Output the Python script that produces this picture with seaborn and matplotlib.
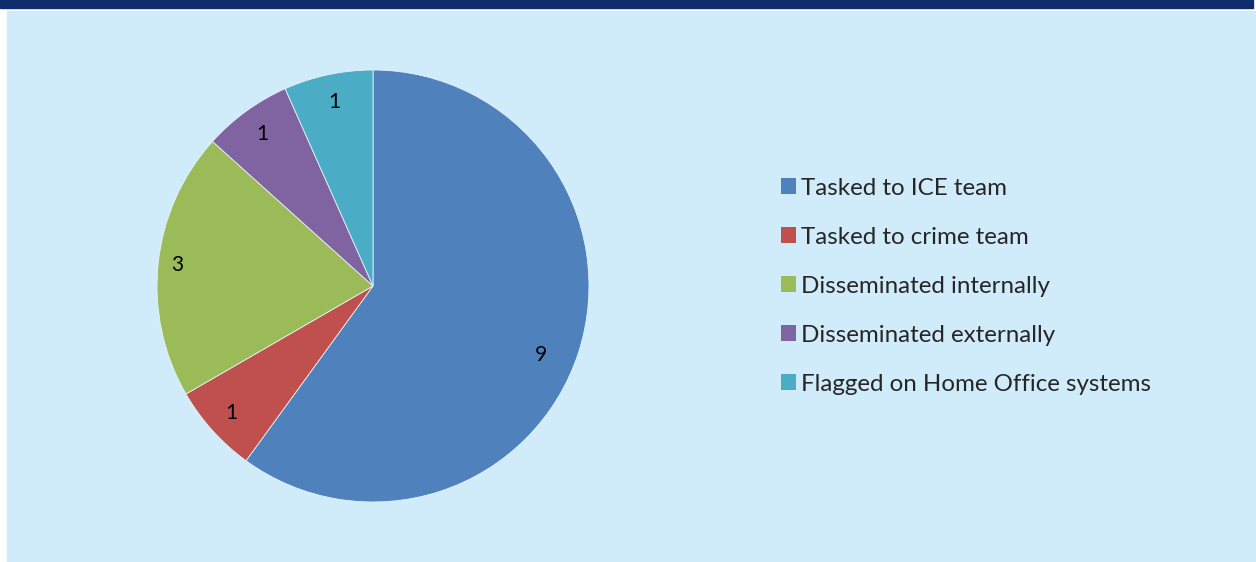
import matplotlib
matplotlib.use("Agg")
import matplotlib.pyplot as plt
import matplotlib.patches as mpatches
import numpy as np
import seaborn as sns

categories = ["Tasked to ICE team", "Tasked to crime team", "Disseminated internally",
              "Disseminated externally", "Flagged on Home Office systems"]
counts = [9, 1, 3, 1, 1]
colours = ["#4f81bd", "#c0504d", "#9bbb59", "#8064a2", "#4bacc6"]

sns.set_theme(style="white")
plt.rcParams["font.family"] = ["Lato", "DejaVu Sans"]

W, H = 1256, 562
fig = plt.figure(figsize=(W / 100, H / 100), dpi=100)
fig.patch.set_facecolor("white")

# navy header strip and pale blue panel
fig.add_artist(mpatches.Rectangle((0, 1 - 8 / H), 1253 / W, 8 / H,
                                  transform=fig.transFigure, color="#0e2b6c", zorder=0))
fig.add_artist(mpatches.Rectangle((7 / W, 0), 1 - 7 / W, 1 - 11 / H,
                                  transform=fig.transFigure, color="#d0ecfa", zorder=0))

# pie: centre (373, 286), radius 216 px
cx, cy, r = 373, 286, 216
ax = fig.add_axes([(cx - r) / W, 1 - (cy + r) / H, 2 * r / W, 2 * r / H])
ax.set_facecolor("none")
total = sum(counts)
wedges, texts, autotexts = ax.pie(
    counts, colors=colours, startangle=90, counterclock=False,
    autopct=lambda p: f"{round(p * total / 100):d}", pctdistance=0.87,
    wedgeprops=dict(edgecolor="#e8f2fa", linewidth=0.6),
    textprops=dict(fontsize=15, color="black"))

# nudge labels a little, Excel "best fit" style
for w, t, dr, da in zip(wedges, autotexts, [0.84, 0.88, 0.91, 0.87, 0.87],
                        [-4.5, 0, 0, 0, 0]):
    mid = np.deg2rad((w.theta1 + w.theta2) / 2 + da)
    t.set_position((dr * np.cos(mid), dr * np.sin(mid)))

ax.set_xlim(-1, 1)
ax.set_ylim(-1, 1)
ax.set_aspect("equal")
ax.axis("off")

handles = [mpatches.Patch(facecolor=c, edgecolor="none") for c in colours]
leg = fig.legend(handles, categories, loc="upper left",
                 bbox_to_anchor=(771 / W, 1 - 168 / H), frameon=False,
                 fontsize=17.4, handlelength=0.62, handleheight=0.62,
                 handletextpad=0.22, labelspacing=1.16, borderaxespad=0)

fig.savefig("out.png", dpi=100)
